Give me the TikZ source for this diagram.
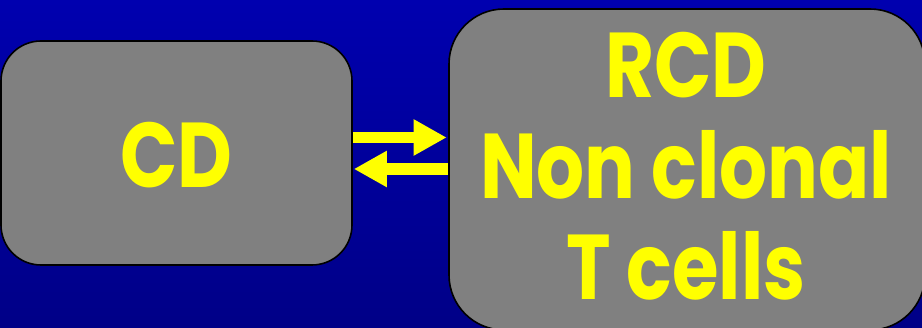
\documentclass[tikz,border=0pt]{standalone}
\usepackage{fontspec}
\setmainfont{Poppins}[BoldFeatures={FakeStretch=0.82}]
\usetikzlibrary{arrows.meta}
\definecolor{bgtop}{RGB}{0,0,175}
\definecolor{bgbot}{RGB}{0,0,135}
\definecolor{boxgray}{RGB}{128,128,128}
\definecolor{txtyellow}{RGB}{255,255,0}
\tikzset{
  graybox/.style={draw=black, line width=1.6pt, fill=boxgray, inner sep=0pt},
  boxtext/.style={text=txtyellow, inner sep=0pt,
    font=\bfseries\fontsize{92}{101}\selectfont, align=center},
  flowarrow/.style={draw=txtyellow, line width=11.5pt,
    -{Triangle[length=33pt,width=34pt]}, shorten <=0.5pt}
}
\begin{document}
\begin{tikzpicture}[x=1pt,y=1pt]
\useasboundingbox (0,0) rectangle (922,328);
\shade[top color=bgtop, bottom color=bgbot] (0,0) rectangle (922,328);
\clip (0,0) rectangle (922,328);
\node[graybox, minimum width=351pt, minimum height=224pt, rounded corners=40pt]
  (cd) at (176.5,175) {};
\node[graybox, minimum width=476pt, minimum height=321pt, rounded corners=55pt]
  (rcd) at (687,158.5) {};
\node[boxtext] (cdtext) at ([yshift=-2pt]cd.center) {CD};
\node[boxtext] (rcdtext) at ([xshift=-1pt,yshift=3pt]rcd.center) {RCD\\Non clonal\\T cells};
\coordinate (upper) at (0,190.5);
\coordinate (lower) at (0,159);
\draw[flowarrow] (cd.east |- upper) -- ([xshift=-1.5pt]rcd.west |- upper);
\draw[flowarrow] (rcd.west |- lower) -- ([xshift=1pt]cd.east |- lower);
\end{tikzpicture}
\end{document}
